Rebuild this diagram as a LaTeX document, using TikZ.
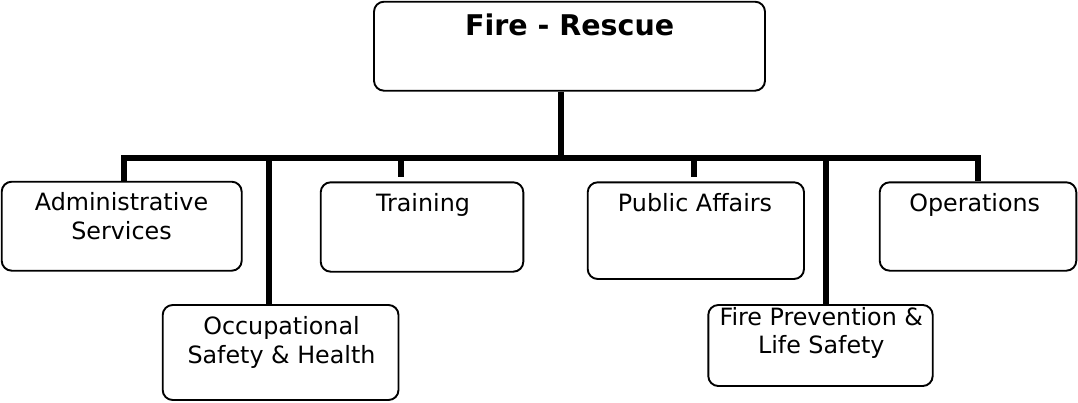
\documentclass[tikz,border=0pt]{standalone}
\usepackage{fontspec}
\setmainfont{DejaVu Sans}
\tikzset{
  box/.style={draw, rounded corners=10pt, line width=1.9pt, inner sep=0pt},
  conn/.style={line width=6pt, line join=miter},
  lbl/.style={font=\fontsize{23.8}{28.3}\selectfont, align=center, inner sep=0pt, anchor=base},
  ttl/.style={font=\fontsize{28.5}{34}\selectfont\bfseries, inner sep=0pt, anchor=base}
}
\begin{document}
\begin{tikzpicture}[x=1pt,y=-1pt]
\useasboundingbox (0,0) rectangle (1078,402);
% boxes
\node[box, minimum width=391pt, minimum height=89pt] (top) at (569.5,46.2) {};
\node[box, minimum width=240pt, minimum height=89pt] (adm) at (121.7,226.2) {};
\node[box, minimum width=235.8pt, minimum height=95pt] (occ) at (280.6,352.5) {};
\node[box, minimum width=202.6pt, minimum height=89.4pt] (trn) at (422,227) {};
\node[box, minimum width=216.3pt, minimum height=96.7pt] (pub) at (695.85,230.65) {};
\node[box, minimum width=224.4pt, minimum height=81pt] (fp) at (820.5,345.5) {};
\node[box, minimum width=196.6pt, minimum height=88.4pt] (ops) at (978,226.5) {};
% texts (base = baseline of the last line)
\node[ttl] (topT) at (569.7,35) {Fire - Rescue};
\node[lbl] (admT) at (121.5,239) {Administrative\\Services};
\node[lbl] (occT) at (281.5,363) {Occupational\\Safety \& Health};
\node[lbl] (trnT) at (423,211.7) {Training};
\node[lbl] (pubT) at (695,211.7) {Public Affairs};
\node[lbl] (fpT) at (821.3,353.3) {Fire Prevention \&\\Life Safety};
\node[lbl] (opsT) at (974.7,211.7) {Operations};
% junctions on the bar
\coordinate (jA) at (123.5,158);
\coordinate (jO) at (268.7,158);
\coordinate (jT) at (401.3,158);
\coordinate (jR) at (561,158);
\coordinate (jP) at (694,158);
\coordinate (jF) at (826.3,158);
\coordinate (jS) at (978.3,158);
% connectors
\draw[conn] (jR |- top.south) -- (jR);
\draw[conn] (jA |- adm.north) -- (jA) -- (jS) -- (jS |- ops.north);
\draw[conn] (jO) -- (jO |- occ.north);
\draw[conn] (jT) -- ([yshift=4pt]jT |- trn.north);
\draw[conn] (jP) -- ([yshift=4pt]jP |- pub.north);
\draw[conn] (jF) -- (jF |- fp.north);
\end{tikzpicture}
\end{document}
